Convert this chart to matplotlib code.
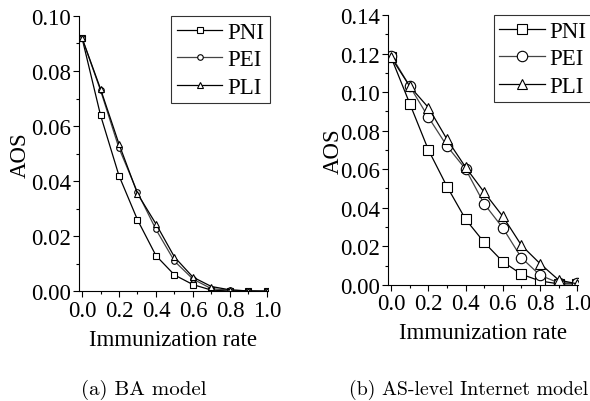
import matplotlib
matplotlib.use("Agg")
import matplotlib.pyplot as plt
from matplotlib.ticker import MultipleLocator, FormatStrFormatter

# immunization rate
rate = [0.0, 0.1, 0.2, 0.3, 0.4, 0.5, 0.6, 0.7, 0.8, 0.9, 1.0]

# (a) BA model
ba_pni = [0.092, 0.064, 0.042, 0.026, 0.013, 0.006, 0.0025, 0.0005, 0.0002, 0.0001, 0.0001]
ba_pei = [0.092, 0.073, 0.052, 0.036, 0.0225, 0.011, 0.0045, 0.001, 0.0005, 0.0002, 0.0001]
ba_pli = [0.092, 0.0735, 0.0535, 0.0355, 0.0245, 0.0125, 0.0052, 0.0018, 0.0006, 0.0002, 0.0001]

# (b) AS-level Internet model
as_pni = [0.118, 0.094, 0.070, 0.051, 0.034, 0.022, 0.012, 0.0055, 0.002, 0.0005, 0.0005]
as_pei = [0.119, 0.103, 0.087, 0.072, 0.060, 0.042, 0.0295, 0.014, 0.005, 0.001, 0.001]
as_pli = [0.118, 0.103, 0.092, 0.0755, 0.061, 0.048, 0.0355, 0.0205, 0.011, 0.0025, 0.0005]

labels = ["PNI", "PEI", "PLI"]
markers = ["s", "o", "^"]
colors = ["black", "#444444", "black"]

plt.rcParams['font.family'] = ['Liberation Serif', 'DejaVu Serif']
plt.rcParams['font.size'] = 16.5

fig = plt.figure(figsize=(5.9, 4.02), dpi=100)
ax1 = fig.add_axes([0.134, 0.2724, 0.32, 0.6856])
ax2 = fig.add_axes([0.658, 0.289, 0.322, 0.671])


def style(ax, series, ymax, ms, ylpad, anchor):
    for ys, lab, m, c in zip(series, labels, markers, colors):
        ax.plot(rate, ys, color=c, lw=0.9, marker=m, ms=ms, mfc="white",
                mec="black", mew=0.8, label=lab)
    ax.set_xlim(-0.016, 1.005)
    ax.set_ylim(0, ymax)
    ax.spines['top'].set_visible(False)
    ax.spines['right'].set_visible(False)
    ax.xaxis.set_major_locator(MultipleLocator(0.2))
    ax.xaxis.set_minor_locator(MultipleLocator(0.1))
    ax.yaxis.set_major_locator(MultipleLocator(0.02))
    ax.yaxis.set_minor_locator(MultipleLocator(0.01))
    ax.xaxis.set_major_formatter(FormatStrFormatter('%.1f'))
    ax.yaxis.set_major_formatter(FormatStrFormatter('%.2f'))
    ax.tick_params(which='major', length=4, width=0.8, pad=2)
    ax.tick_params(which='minor', length=2, width=0.8)
    ax.set_ylabel("AOS", labelpad=ylpad)
    ax.set_xlabel("Immunization rate", labelpad=6)
    leg = ax.legend(loc='upper right', bbox_to_anchor=anchor, frameon=True,
                    fancybox=False, edgecolor='black', borderpad=0.25,
                    handlelength=2.0, handletextpad=0.2, labelspacing=0.28,
                    borderaxespad=0.0, fontsize=16.5)
    leg.get_frame().set_linewidth(0.8)


style(ax1, [ba_pni, ba_pei, ba_pli], 0.10, 4, 0, (1.01, 1.0))
style(ax2, [as_pni, as_pei, as_pli], 0.14, 7.5, -3, (1.075, 1.0))

fig.text(0.243, 0.03, "(a) BA model", family='cmr10', fontsize=15, ha='center', va='center')
fig.text(0.795, 0.03, "(b) AS-level Internet model", family='cmr10', fontsize=14.3, ha='center', va='center')

fig.savefig("out.png", dpi=100)
